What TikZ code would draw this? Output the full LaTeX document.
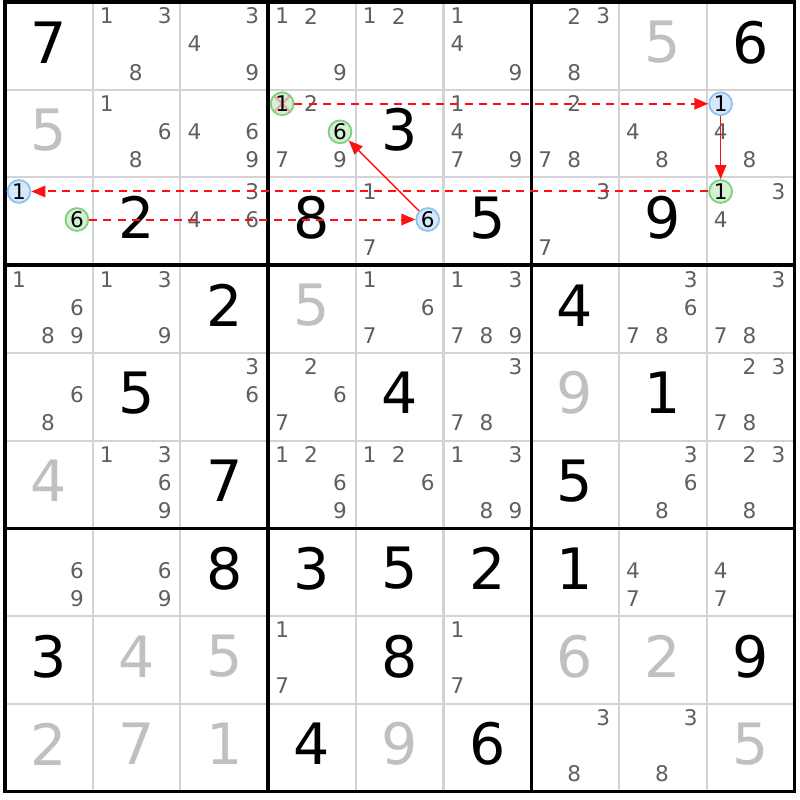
\documentclass[tikz,border=0pt]{standalone}
\usepackage{fontspec}
\setmainfont{DejaVu Sans}
\usetikzlibrary{arrows.meta}
\definecolor{candgray}{HTML}{5F5F5F}
\definecolor{solvedgray}{HTML}{C0C0C0}
\definecolor{gridgray}{HTML}{D3D3D3}
\definecolor{onfill}{HTML}{D6E8FA}
\definecolor{online}{HTML}{8EC3F4}
\definecolor{offfill}{HTML}{D5F1D5}
\definecolor{offline}{HTML}{80D080}
\definecolor{crossred}{HTML}{F2A3A3}
\definecolor{linkred}{HTML}{FF1010}

\begin{document}
\begin{tikzpicture}[
  given/.style={font=\fontsize{18.5}{19}\selectfont},
  solved/.style={given, text=solvedgray},
  cand/.style={font=\fontsize{7}{8}\selectfont, text=candgray, inner sep=0pt},
  onnode/.style={circle, draw=online, fill=onfill, line width=0.6pt, minimum size=2.6mm, inner sep=0pt, font=\fontsize{7}{8}\selectfont},
  offnode/.style={onnode, draw=offline, fill=offfill},
  weaklink/.style={draw=linkred, line width=0.65pt, dash pattern=on 2.6pt off 2pt, -{Triangle[length=1.6mm,width=1.3mm]}},
  stronglink/.style={draw=linkred, line width=0.45pt, -{Triangle[length=1.6mm,width=1.3mm]}}]
\useasboundingbox (-0.057,0.023) rectangle (9.065,-9.099);

\foreach \i in {1,2,4,5,7,8} {
  \draw[gridgray, line width=0.65pt] (\i,0) -- (\i,-9);
  \draw[gridgray, line width=0.65pt] (0,-\i) -- (9,-\i);
}
\foreach \i in {3,6} {
  \draw[line width=1.1pt] (\i,0) -- (\i,-9);
  \draw[line width=1.1pt] (0,-\i) -- (9,-\i);
}
\draw[line width=1.1pt] (0,0) rectangle (9,-9);

\foreach \r/\c/\d in {1/1/7, 1/9/6, 2/5/3, 3/2/2, 3/4/8, 3/6/5, 3/8/9, 4/3/2, 4/7/4,
    5/2/5, 5/5/4, 5/8/1, 6/3/7, 6/7/5, 7/3/8, 7/4/3, 7/5/5, 7/6/2, 7/7/1,
    8/1/3, 8/5/8, 8/9/9, 9/4/4, 9/6/6}
  \node[given] (g\r\c) at (\c-0.5, 0.54-\r) {\d};
\foreach \r/\c/\d in {1/8/5, 2/1/5, 4/4/5, 5/7/9, 6/1/4, 8/2/4, 8/3/5, 8/7/6, 8/8/2,
    9/1/2, 9/2/7, 9/3/1, 9/5/9, 9/9/5}
  \node[solved] (s\r\c) at (\c-0.5, 0.54-\r) {\d};

\foreach \r/\c/\ds in {1/2/{1,3,8}, 1/3/{3,4,9}, 1/4/{1,2,9}, 1/5/{1,2}, 1/6/{1,4,9}, 1/7/{2,3,8},
    2/2/{1,6,8}, 2/3/{4,6,9}, 2/4/{2,7,9}, 2/6/{1,4,7,9}, 2/7/{2,7,8}, 2/8/{4,8}, 2/9/{4,8},
    3/3/{3,4,6}, 3/5/{1,7}, 3/7/{3,7}, 3/9/{3,4},
    4/1/{1,6,8,9}, 4/2/{1,3,9}, 4/5/{1,6,7}, 4/6/{1,3,7,8,9}, 4/8/{3,6,7,8}, 4/9/{3,7,8},
    5/1/{6,8}, 5/3/{3,6}, 5/4/{2,6,7}, 5/6/{3,7,8}, 5/9/{2,3,7,8},
    6/2/{1,3,6,9}, 6/4/{1,2,6,9}, 6/5/{1,2,6}, 6/6/{1,3,8,9}, 6/8/{3,6,8}, 6/9/{2,3,8},
    7/1/{6,9}, 7/2/{6,9}, 7/8/{4,7}, 7/9/{4,7},
    8/4/{1,7}, 8/6/{1,7}, 9/7/{3,8}, 9/8/{3,8}}
  \foreach \d in \ds
    \node[cand] (n\r\c\d) at ({\c-0.51+(mod(\d-1,3)-1)*0.33}, {0.52-\r-(div(\d-1,3)-1)*0.32}) {\d};

\node[offnode, path picture={
    \draw[crossred, line width=0.7pt]
      (path picture bounding box.south west) -- (path picture bounding box.north east)
      (path picture bounding box.north west) -- (path picture bounding box.south east);}]
  (n241) at (3.16,-1.16) {1};
\node[offnode] (n246) at (3.82,-1.48) {6};
\node[onnode] (n291) at (8.16,-1.16) {1};
\node[offnode] (n391) at (8.16,-2.16) {1};
\node[onnode] (n311) at (0.16,-2.16) {1};
\node[offnode] (n316) at (0.82,-2.48) {6};
\node[onnode] (n356) at (4.82,-2.48) {6};

\draw[weaklink] (n241) -- (n291);
\draw[stronglink] (n291) -- (n391);
\draw[weaklink] (n391) -- (n311);
\draw[weaklink] (n316) -- (n356);
\draw[stronglink] (n356) -- (n246);
\end{tikzpicture}
\end{document}
